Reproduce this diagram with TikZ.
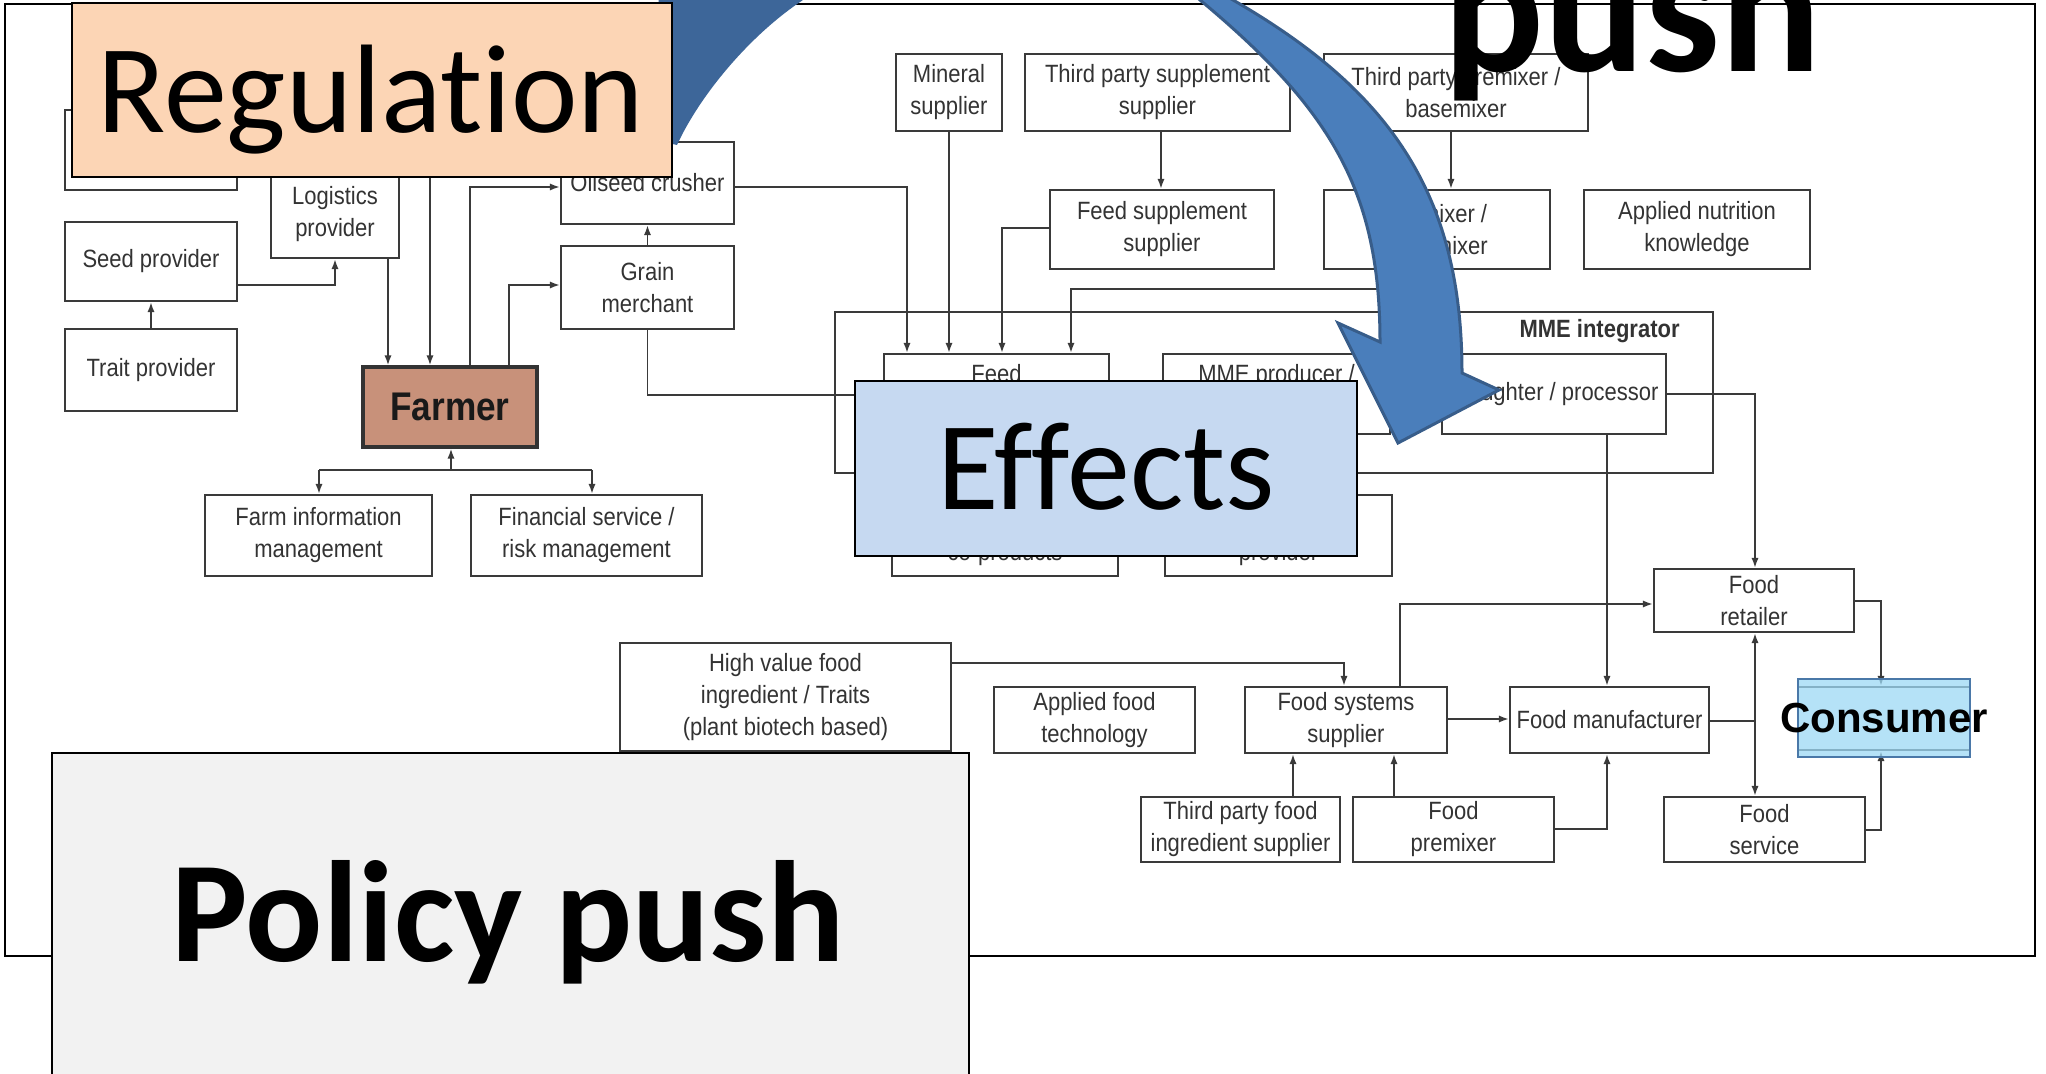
\documentclass[tikz,border=0pt]{standalone}
\usepackage{fontspec}
\setmainfont{Liberation Sans}
\newfontfamily\calib[Ligatures=NoCommon]{Carlito}
\newfontfamily\narrowf[FakeStretch=0.88]{Liberation Sans}
\newfontfamily\arialf{Liberation Sans}
\usetikzlibrary{fit,arrows.meta}
\definecolor{linec}{HTML}{3A3A3A}
\definecolor{txtc}{HTML}{333333}
\definecolor{regfill}{HTML}{FCD5B5}
\definecolor{efffill}{HTML}{C6D9F1}
\definecolor{polfill}{HTML}{F2F2F2}
\definecolor{farmfill}{HTML}{C8917A}
\definecolor{consfill}{HTML}{9DD9F5}
\definecolor{consdraw}{HTML}{4A78A8}
\definecolor{arrowfill}{HTML}{4A7EBB}
\definecolor{arrowdark}{HTML}{3D6699}
\definecolor{arrowline}{HTML}{385D8A}
% box from pixel corners: [options]{name}{x1}{y1}{x2}{y2}{text}
\newcommand\mybox[7][]{%
  \pgfmathsetmacro\bxcx{(#3+#5)/2}%
  \pgfmathsetmacro\bxcy{(#4+#6)/2}%
  \pgfmathsetmacro\bxw{(#5-#3)*0.5}%
  \pgfmathsetmacro\bxh{(#6-#4)*0.5}%
  \node[bx,minimum width=\bxw pt,minimum height=\bxh pt,#1] (#2) at (\bxcx,\bxcy) {#7};}
\begin{document}
\begin{tikzpicture}[x=0.5pt,y=-0.5pt,
  bx/.style={draw=linec, line width=1.1pt, inner sep=0pt, align=center, text=txtc, font=\narrowf\fontsize{12.5}{16}\selectfont},
  conn/.style={draw=linec, line width=0.9pt},
  arr/.style={conn, -{Latex[length=5pt,width=3.6pt]}},
  darr/.style={conn, {Latex[length=5pt,width=3.6pt]}-{Latex[length=5pt,width=3.6pt]}},
  slidebox/.style={draw=black, line width=1pt, inner sep=0pt},
]
\useasboundingbox (0,0) rectangle (2046,1074);
\clip (0,0) rectangle (2046,1074);
\fill[white] (0,0) rectangle (2046,1074);
\node[slidebox, fit={(5,4)(2035,956)}] (frame) {};

% ---- underlying diagram boxes
\mybox{hid}{65}{110}{237}{190}{}
\mybox{seed}{65}{222}{237}{301}{Seed provider}
\mybox{trait}{65}{329}{237}{411}{Trait provider}
\mybox{logi}{271}{170}{399}{258}{Logistics\\provider}
\mybox[fill=farmfill, line width=1.6pt, draw=black!80, text=black!90, font=\narrowf\bfseries\fontsize{20}{24}\selectfont]{farmer}{363}{367}{537}{447}{Farmer}
\mybox{oil}{561}{142}{734}{224}{Oilseed crusher}
\mybox{grain}{561}{246}{734}{329}{Grain\\merchant}
\mybox{finfo}{205}{495}{432}{576}{Farm information\\management}
\mybox{fin}{471}{495}{702}{576}{Financial service /\\risk management}
\mybox{mineral}{896}{54}{1002}{131}{Mineral\\supplier}
\mybox{tpss}{1025}{54}{1290}{131}{Third party supplement\\supplier}
\mybox{tppb}{1324}{54}{1588}{131}{Third party premixer /\\basemixer}
\mybox{fss}{1050}{190}{1274}{269}{Feed supplement\\supplier}
\mybox{premix}{1324}{190}{1550}{269}{Premixer /\\basemixer}
\mybox{ank}{1584}{190}{1810}{269}{Applied nutrition\\knowledge}
\mybox{mme}{835}{312}{1713}{473}{}
\node[anchor=east, inner sep=0pt, text=txtc, font=\narrowf\bfseries\fontsize{12.5}{16}\selectfont] (mmel) at (1680,331) {MME integrator};
\mybox{feed}{884}{354}{1109}{434}{Feed\\\strut}
\mybox{mmep}{1163}{354}{1390}{434}{MME producer /\\\strut}
\mybox{slau}{1442}{354}{1666}{434}{Slaughter / processor}
\mybox{cop}{892}{495}{1118}{576}{\strut\\co-products}
\mybox{prov}{1165}{495}{1392}{576}{\strut\\provider}
\mybox{hvf}{620}{643}{951}{751}{High value food\\ingredient / Traits\\(plant biotech based)}
\mybox{aft}{994}{687}{1195}{753}{Applied food\\technology}
\mybox{fsys}{1245}{687}{1447}{753}{Food systems\\supplier}
\mybox{fman}{1510}{687}{1709}{753}{Food manufacturer}
\mybox{fret}{1654}{569}{1854}{632}{Food\\retailer}
\mybox{cons}{1798}{687}{1970}{750}{}
\mybox{tpf}{1141}{797}{1340}{862}{Third party food\\ingredient supplier}
\mybox{fprem}{1353}{797}{1554}{862}{Food\\premixer}
\mybox{fserv}{1664}{797}{1865}{862}{Food\\service}

% ---- connectors
\coordinate (c1) at (335,285);
\coordinate (c2) at (388,300);
\coordinate (c3) at (430,150);
\coordinate (c4) at (470,187);
\coordinate (c5) at (509,285);
\coordinate (c6) at (647.5,395);
\coordinate (c7) at (907,187);
\coordinate (c9) at (1161,160);
\coordinate (c10) at (1002,228);
\coordinate (c11) at (1451,160);
\coordinate (c12) at (1400,289);
\coordinate (c13) at (1071,289);
\coordinate (c14) at (1755,394);
\coordinate (c15) at (1607,500);
\coordinate (c16) at (1881,601);
\coordinate (c17) at (1881,830);
\coordinate (c18) at (1755,721);
\coordinate (c19) at (1607,829);
\coordinate (c20) at (1293,780);
\coordinate (c21) at (1394,780);
\coordinate (c22) at (1480,719);
\coordinate (c23) at (1400,604);
\coordinate (c24) at (1344,663);
\coordinate (c25) at (451,470);
\coordinate (c26) at (319,470);
\coordinate (c27) at (592,470);

\draw[arr] (trait) -- (seed);
\draw[arr] (seed.east |- c1) -- (c1) -- (logi.south -| c1);
\draw[arr] (logi.south -| c2) -- (farmer.north -| c2);
\draw[arr] (c3) -- (farmer.north -| c3);
\draw[arr] (farmer.north -| c4) -- (c4) -- (oil.west |- c4);
\draw[arr] (farmer.north -| c5) -- (c5) -- (grain.west |- c5);
\draw[arr] (grain) -- (oil);
\draw[arr] (grain.south) -- (c6) -- (feed.west |- c6);
\draw[arr] (oil.east |- c7) -- (c7) -- (feed.north -| c7);
\draw[arr] (mineral.south) -- (feed.north -| mineral.south);
\draw[arr] (tpss.south -| c9) -- (fss.north -| c9);
\draw[arr] (fss.west |- c10) -- (c10) -- (feed.north -| c10);
\draw[arr] (tppb.south -| c11) -- (premix.north -| c11);
\draw[arr] (premix.south -| c12) -- (c12) -- (c13) -- (feed.north -| c13);
\draw[arr] (slau.east |- c14) -- (c14) -- (fret.north -| c14);
\draw[arr] (slau.south -| c15) -- (fman.north -| c15);
\draw[arr] (fret.east |- c16) -- (c16) -- (cons.north -| c16);
\draw[arr] (fserv.east |- c17) -- (c17) -- (cons.south -| c17);
\draw[darr] (fret.south -| c14) -- (fserv.north -| c14);
\draw[conn] (fman.east |- c18) -- (c18);
\draw[arr] (fprem.east |- c19) -- (c19) -- (fman.south -| c19);
\draw[arr] (tpf.north -| c20) -- (fsys.south -| c20);
\draw[arr] (fprem.north -| c21) -- (fsys.south -| c21);
\draw[arr] (fsys.east |- c22) -- (fman.west |- c22);
\draw[arr] (fsys.north -| c23) -- (c23) -- (fret.west |- c23);
\draw[arr] (hvf.east |- c24) -- (c24) -- (fsys.north -| c24);
\draw[arr] (c25) -- (farmer.south -| c25);
\draw[conn] (c26) -- (c27);
\draw[arr] (c26) -- (finfo.north -| c26);
\draw[arr] (c27) -- (fin.north -| c27);

% ---- consumer highlight
\mybox[fill=consfill, fill opacity=0.75, text opacity=1, draw=consdraw, line width=1pt, text=black, font=\arialf\bfseries\fontsize{21}{24}\selectfont]{consov}{1798}{679}{1970}{757}{\makebox[0pt]{Consumer}}

% ---- big curved arrow
\fill[arrowdark] (677,145) .. controls (700,95) and (750,35) .. (803,0) -- (840,-50) -- (660,-50) -- (655,140) -- cycle;
\filldraw[fill=arrowfill, draw=arrowline, line width=1.5pt, line join=miter]
 (1150,-45) -- (1200,0) .. controls (1332,110) and (1380,192) .. (1380,342) -- (1338,323) -- (1398,443) -- (1499,390) -- (1462,373) .. controls (1462,193) and (1389,90) .. (1233,0) -- (1180,-31) -- cycle;

% ---- slide overlays
\node[slidebox, fill=regfill, fit={(72,3)(672,177)}] (reg) {};
\node[anchor=base, inner sep=0pt, font=\calib\fontsize{63}{70}\selectfont] (regt) at (371,133) {Regulation};
\node[slidebox, fill=efffill, fit={(855,381)(1357,556)}] (eff) {};
\node[anchor=base, inner sep=0pt, font=\calib\fontsize{63}{70}\selectfont] (efft) at (1106,510) {Effects};
\node[slidebox, fill=polfill, fit={(52,753)(969,1100)}] (pol) {};
\node[anchor=base, inner sep=0pt, font=\calib\bfseries\fontsize{72}{80}\selectfont] (polt) at (508,961) {Policy push};
\node[anchor=base, inner sep=0pt, font=\calib\bfseries\fontsize{94}{100}\selectfont] (pusht) at (1632,72) {push};
\end{tikzpicture}
\end{document}
